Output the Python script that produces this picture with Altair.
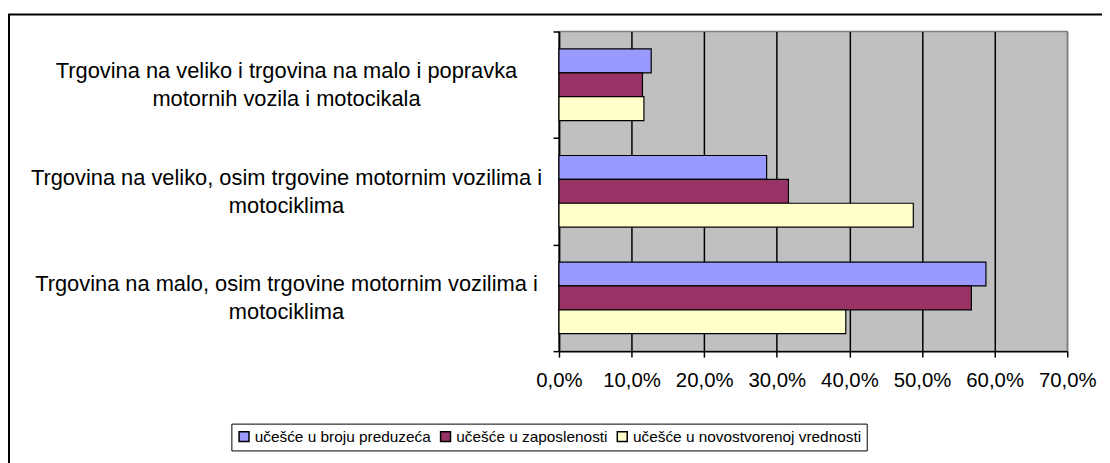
import altair as alt
import pandas as pd

CAT_LINES = [
    ["Trgovina na veliko i trgovina na malo i popravka", "motornih vozila i motocikala"],
    ["Trgovina na veliko, osim trgovine motornim vozilima i", "motociklima"],
    ["Trgovina na malo, osim trgovine motornim vozilima i", "motociklima"],
]
CATEGORIES = [" | ".join(l) for l in CAT_LINES]
SERIES = ["učešće u broju preduzeća", "učešće u zaposlenosti", "učešće u novostvorenoj vrednosti"]
BROJ = [0.127, 0.286, 0.588]
ZAPOSLENOST = [0.115, 0.316, 0.568]
VREDNOST = [0.117, 0.488, 0.395]
COLORS = ["#9999FF", "#993366", "#FFFFCC"]
X_TICKS = [0.0, 0.1, 0.2, 0.3, 0.4, 0.5, 0.6, 0.7]

rows = []
for i, c in enumerate(CATEGORIES):
    for s, vals in zip(SERIES, [BROJ, ZAPOSLENOST, VREDNOST]):
        rows.append({"kategorija": c, "serija": s, "udeo": vals[i]})
df = pd.DataFrame(rows)

FONT = "Liberation Sans"
W, H = 512, 322

bars = alt.Chart(df).mark_bar(stroke="black", strokeWidth=1.2).encode(
    y=alt.Y(
        "kategorija:N",
        sort=CATEGORIES,
        scale=alt.Scale(paddingInner=0, paddingOuter=0),
        axis=alt.Axis(
            title=None,
            tickBand="extent",
            labelAlign="center",
            labelBaseline="middle",
            labelPadding=269,
            labelOffset=-14,
            labelExpr="split(datum.label, ' | ')",
            labelFont=FONT,
            labelFontSize=22,
            labelLineHeight=28,
            labelColor="black",
            labelLimit=700,
            tickColor="black",
            tickSize=6,
            tickWidth=1.5,
            domainColor="black",
            domainWidth=1.5,
            grid=False,
        ),
    ),
    yOffset=alt.YOffset("serija:N", sort=SERIES, scale=alt.Scale(paddingOuter=0.73, paddingInner=0)),
    x=alt.X(
        "udeo:Q",
        scale=alt.Scale(domain=[0, 0.7], nice=False, zero=True),
        axis=alt.Axis(
            title=None,
            orient="bottom",
            values=X_TICKS,
            labelExpr="replace(format(datum.value, '.1%'), '.', ',')",
            labelFont=FONT,
            labelFontSize=20.5,
            labelColor="black",
            labelPadding=14,
            labelFlush=False,
            labelOverlap=False,
            tickColor="black",
            tickSize=6,
            tickWidth=1.5,
            domainColor="black",
            domainWidth=1.5,
            grid=True,
            gridColor={"condition": {"test": "datum.value >= 0.69", "value": "#808080"}, "value": "black"},
            gridWidth=1.5,
        ),
    ),
    color=alt.Color(
        "serija:N",
        sort=SERIES,
        scale=alt.Scale(domain=SERIES, range=COLORS),
        legend=alt.Legend(
            title=None,
            orient="none",
            legendX=-330,
            legendY=395,
            direction="horizontal",
            symbolType="square",
            symbolSize=100,
            symbolStrokeColor="black",
            symbolStrokeWidth=1.5,
            labelFont=FONT,
            labelFontSize=15.5,
            labelColor="black",
            labelOffset=3,
            columnPadding=5,
            padding=5,
            strokeColor="black",
            fillColor="white",
            labelLimit=600,
        ),
    ),
)

frame = alt.Chart(alt.Data(values=[{"a": 1}])).mark_rect(
    fillOpacity=0, stroke="black", strokeWidth=2
).encode(
    x=alt.value(-554), x2=alt.value(W + 300),
    y=alt.value(-17), y2=alt.value(H + 300),
)

chart = alt.layer(bars, frame).properties(
    width=W,
    height=H,
    padding={"left": 555, "top": 22, "right": 35, "bottom": 111},
    autosize=alt.AutoSizeParams(type="none"),
    background="white",
).configure_view(
    fill="#C0C0C0", stroke="#808080", strokeWidth=1.5
)

chart.save("out.html", embed_options={"renderer": "svg", "actions": False})
